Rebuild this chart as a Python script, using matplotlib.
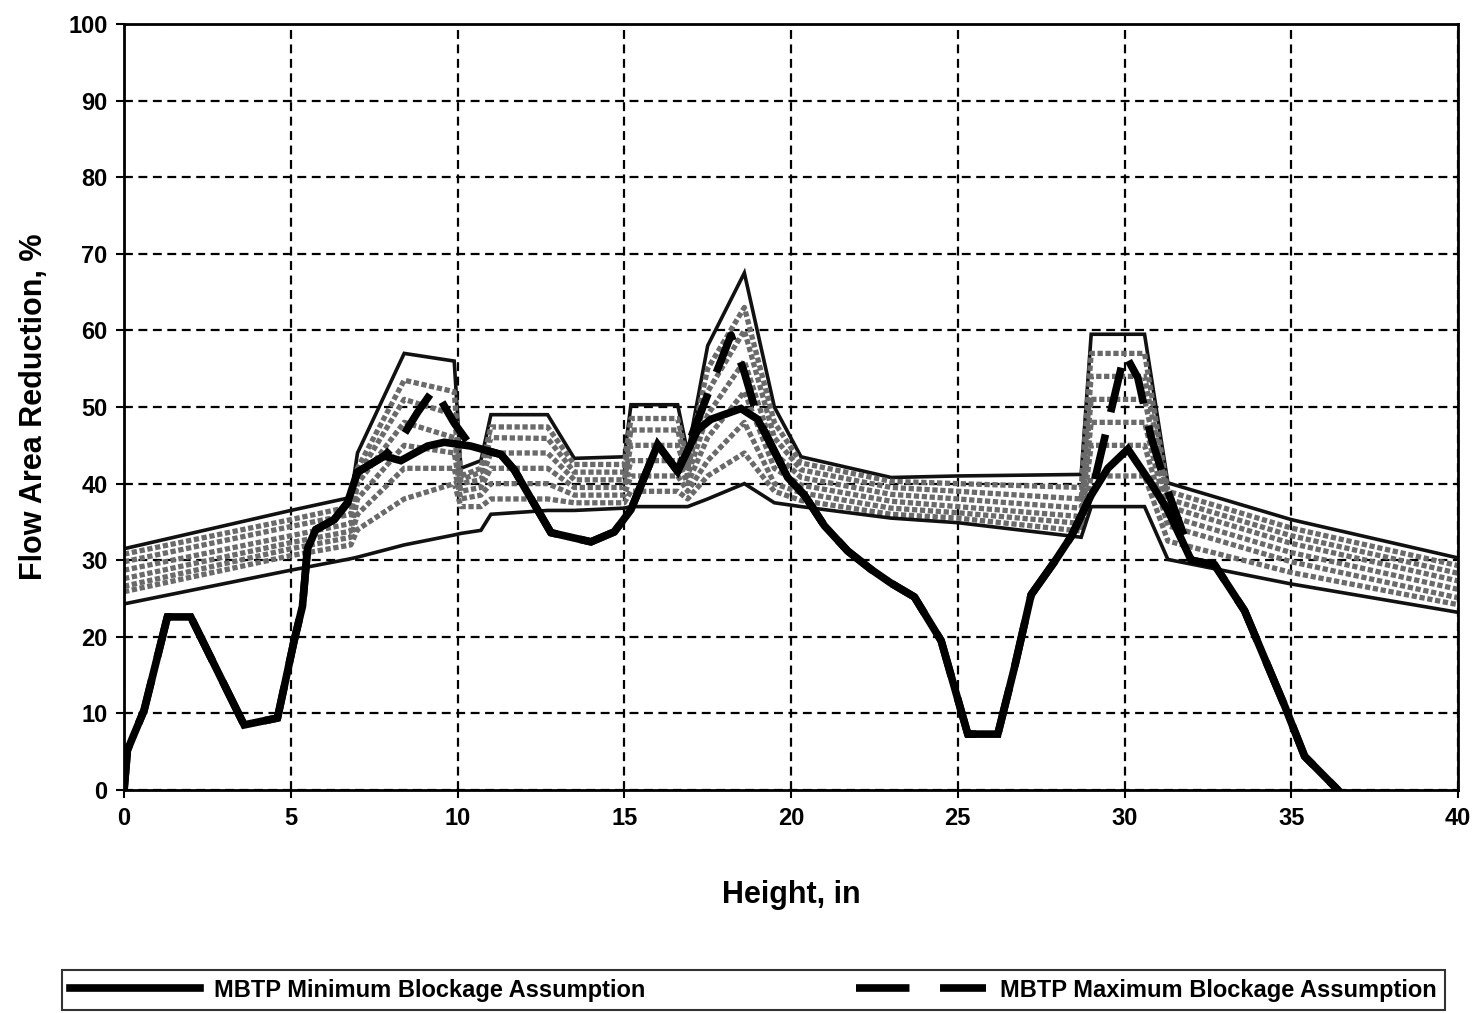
import matplotlib
matplotlib.use('Agg')
import matplotlib.pyplot as plt
from matplotlib.lines import Line2D

plt.rcParams['font.family'] = ['Liberation Sans', 'DejaVu Sans']

# ---- MBTP minimum blockage (solid) ----
min_x = [0, 0.1, 0.6, 1.3, 2.0, 3.6, 4.6, 5.1, 5.35, 5.5, 5.75, 6.3, 6.7, 7.0, 7.8,
         8.3, 9.1, 9.6, 10.4, 11.3, 11.7, 12.8, 14.0, 14.7, 15.2, 16.0, 16.6, 17.2, 17.6,
         18.5, 19.0, 19.9, 20.4, 21.0, 21.7, 22.4, 23.0, 23.7, 24.5, 25.3, 26.2, 26.7,
         27.2, 27.9, 28.4, 29.0, 29.5, 30.1, 30.8, 31.3, 32.0, 32.7, 33.6, 34.2, 34.8,
         35.4, 36.4]
min_y = [0, 5.2, 10.4, 22.6, 22.6, 8.5, 9.4, 19.5, 24, 31.5, 34, 35.3, 37.5, 41.5, 43.6,
         43, 44.9, 45.4, 44.9, 43.8, 41.8, 33.6, 32.4, 33.7, 36.6, 45.1, 41.6, 47.0, 48.4,
         49.8, 48.4, 40.8, 38.5, 34.5, 31.2, 28.8, 27.0, 25.2, 19.5, 7.3, 7.3, 16,
         25.5, 29.8, 33.1, 38.5, 42.0, 44.5, 40.0, 36.5, 30.0, 29.4, 23.4, 17.2, 11.0,
         4.4, 0.0]

# ---- MBTP maximum blockage (dashed) ----
max_x = [0, 0.1, 0.6, 1.3, 2.0, 3.6, 4.6, 5.1, 5.35, 5.5, 5.75, 6.3, 6.7, 7.0, 7.8,
         8.3, 8.8, 9.3, 9.9, 10.4, 11.3, 11.7, 12.8, 14.0, 14.7, 15.2, 16.0, 16.6, 18.2,
         18.6, 19.0, 19.9, 20.4, 21.0, 21.7, 22.4, 23.0, 23.7, 24.5, 25.3, 26.2, 26.7,
         27.2, 27.9, 28.4, 29.0, 30.0, 30.4, 30.8, 31.3, 31.8, 32.0, 32.7, 33.6, 34.2,
         34.8, 35.4, 36.4]
max_y = [0, 5.2, 10.4, 22.6, 22.6, 8.5, 9.4, 19.5, 24, 31.5, 34, 35.3, 37.5, 41.5, 43.6,
         45.8, 49.3, 52.4, 47.9, 44.9, 43.8, 41.8, 33.6, 32.4, 33.7, 36.6, 45.1, 41.6, 59.4,
         54.5, 48.6, 40.8, 38.5, 34.5, 31.2, 28.8, 27.0, 25.2, 19.5, 7.3, 7.3, 16,
         25.5, 29.8, 33.1, 38.5, 57.0, 53.8, 46.0, 39.0, 33.0, 30.0, 29.4, 23.4, 17.2,
         11.0, 4.4, 0.0]

# ---- measured profiles (grey band) ----
grey_x = [0, 5, 6.8, 7.0, 8.4, 9.9, 10.1, 10.7, 11.0, 12.7, 13.5, 15.0, 15.2, 16.6, 16.9,
          17.5, 18.6, 19.5, 20.3, 23.0, 25.0, 28.7, 29.0, 30.6, 31.3, 35.0, 40.0]
grey_1 = [31.5, 36.5, 38.2, 44, 57, 56, 42, 43, 49, 49, 43.3, 43.5, 50.3, 50.3, 44,
          58, 67.5, 50, 43.5, 40.8, 41, 41.2, 59.5, 59.5, 40.1, 35.3, 30.3]
grey_2 = [30.8, 35.3, 37.0, 42, 53.5, 52, 41, 42, 47.4, 47.4, 42.5, 42.5, 48.5, 48.5, 43,
          55, 63, 48, 42.7, 40.3, 40, 39.5, 57, 57, 39, 34.2, 29.3]
grey_3 = [29.8, 34.4, 36.0, 41, 51, 49, 40.5, 41.5, 46, 45.9, 41.5, 41.5, 47, 47, 42,
          52, 60, 46, 41.8, 39.5, 39, 38, 54, 54, 38, 33.2, 28.3]
grey_4 = [28.7, 33.2, 34.8, 40, 48, 46, 40, 40.5, 44, 44, 40.5, 40.5, 45, 45, 41,
          49, 56, 44, 40.8, 38.6, 38, 36.8, 51, 51, 37, 32.2, 27.3]
grey_5 = [27.6, 32.3, 33.8, 38, 45, 44, 39, 39.5, 42, 42, 39.5, 39.5, 43, 43, 40,
          46, 52, 42, 39.8, 37.7, 37, 35.7, 48, 48, 35.8, 31, 26.2]
grey_6 = [26.6, 31.5, 33.0, 36, 42, 42, 38, 38.5, 40, 40, 38.5, 38.5, 41, 41, 39,
          43, 48, 40, 38.8, 36.8, 36.2, 34.8, 45, 45, 34.5, 29.8, 25.1]
grey_7 = [25.9, 30.6, 32.0, 34, 38, 40, 37, 37, 38, 38, 37.5, 37.5, 39, 39, 38,
          41, 44, 39, 37.8, 36, 35.5, 33.8, 41, 41, 32.5, 28.4, 24.2]
grey_8 = [24.3, 28.7, 30.2, 30.4, 32, 33.3, 33.5, 33.9, 36, 36.5, 36.5, 36.8, 37, 37, 37,
          38, 40, 37.5, 37, 35.5, 34.9, 33.0, 37, 37, 30.1, 26.9, 23.2]
grey_series = [grey_1, grey_2, grey_3, grey_4, grey_5, grey_6, grey_7, grey_8]

x_ticks = [0, 5, 10, 15, 20, 25, 30, 35, 40]
y_ticks = [0, 10, 20, 30, 40, 50, 60, 70, 80, 90, 100]

fig = plt.figure(figsize=(14.75, 10.13), dpi=100)
ax = fig.add_axes([0.0841, 0.2201, 0.9044, 0.7562])

for i, g in enumerate(grey_series):
    if i in (0, 7):
        ax.plot(grey_x, g, color='#111111', lw=2.6, zorder=2, solid_joinstyle='miter')
    else:
        ax.plot(grey_x, g, color='#6a6a6a', lw=3.8, zorder=2,
                linestyle=(0, (1.0, 0.5)))

ax.plot(min_x, min_y, color='black', lw=5.5, zorder=4, solid_joinstyle='miter')
ax.plot(max_x, max_y, color='black', lw=5.5, zorder=5, linestyle=(0, (6, 3)))

ax.set_xlim(0, 40)
ax.set_ylim(0, 100)
ax.set_xticks(x_ticks)
ax.set_yticks(y_ticks)
ax.grid(True, color='black', linestyle=(0, (4, 2.5)), lw=1.6, zorder=1)
ax.set_axisbelow(True)
for s in ax.spines.values():
    s.set_linewidth(2.0)
    s.set_color('black')
ax.tick_params(axis='both', direction='out', length=6, width=1.5,
               labelsize=17, pad=6)
for lab in ax.get_xticklabels() + ax.get_yticklabels():
    lab.set_fontweight('bold')

ax.set_xlabel('Height, in', fontsize=22, fontweight='bold', labelpad=36)
ax.set_ylabel('Flow Area Reduction, %', fontsize=22, fontweight='bold', labelpad=14)

handles = [Line2D([], [], color='black', lw=5.5),
           Line2D([], [], color='black', lw=5.5, linestyle=(0, (7, 4)))]
labels = ['MBTP Minimum Blockage Assumption', 'MBTP Maximum Blockage Assumption']
leg = fig.legend(handles, labels, loc='lower left',
                 bbox_to_anchor=(62 / 1475, 3 / 1013, 1383 / 1475, 45 / 1013),
                 mode='expand', ncol=2, frameon=True, fancybox=False,
                 edgecolor='black', handlelength=5.5, handletextpad=0.6,
                 borderpad=0.35, borderaxespad=0.0,
                 prop={'size': 17, 'weight': 'bold'})
leg.get_frame().set_linewidth(1.5)

fig.savefig('out.png', dpi=100)
